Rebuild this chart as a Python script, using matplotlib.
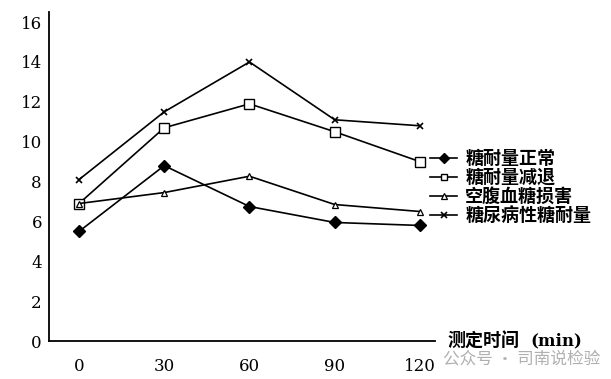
import matplotlib
matplotlib.use("Agg")
from matplotlib import pyplot as plt

# 测定时间 (min)
times = [0, 30, 60, 90, 120]
tick_labels = ["0", "30", "60", "90", "120"]

normal = [5.5, 8.8, 6.75, 5.95, 5.8]      # 糖耐量正常
igt = [6.9, 10.7, 11.9, 10.5, 9.0]         # 糖耐量减退
ifg = [6.9, 7.45, 8.27, 6.85, 6.5]         # 空腹血糖损害
diabetic = [8.1, 11.5, 14.0, 11.1, 10.8]   # 糖尿病性糖耐量

names = ["糖耐量正常", "糖耐量减退", "空腹血糖损害", "糖尿病性糖耐量"]

cjk = ["Noto Sans CJK SC", "DejaVu Sans"]
serif = ["DejaVu Serif"]

fig = plt.figure(figsize=(6.11, 3.79), dpi=100)
ax = fig.add_axes([0.080, 0.100, 0.632, 0.868])

lw = 1.2
ax.plot(times, normal, color="black", lw=lw, marker="D", ms=6,
        mfc="black", label=names[0])
ax.plot(times, igt, color="black", lw=lw, marker="s", ms=7,
        mfc="white", mew=1.0, label=names[1])
ax.plot(times, ifg, color="black", lw=lw, marker="^", ms=5,
        mfc="white", mew=0.9, label=names[2])
ax.plot(times, diabetic, color="black", lw=lw, marker="x", ms=5,
        mew=1.2, label=names[3])

ax.set_xlim(-10.6, 125.3)
ax.set_ylim(0, 16.5)
ax.set_xticks(times)
ax.set_xticklabels(tick_labels)
ax.set_yticks(range(0, 17, 2))
for lab in ax.get_xticklabels() + ax.get_yticklabels():
    lab.set_family(serif)
    lab.set_fontsize(12)
ax.tick_params(axis="both", length=0)
ax.tick_params(axis="y", pad=5)
ax.tick_params(axis="x", pad=12)

for s in ["top", "right"]:
    ax.spines[s].set_visible(False)
for s in ["left", "bottom"]:
    ax.spines[s].set_linewidth(1.3)

leg = fig.legend(loc="upper left", bbox_to_anchor=(0.692, 0.626),
                 frameon=False, handlelength=1.5, handletextpad=0.45,
                 labelspacing=0.0, borderaxespad=0,
                 prop={"family": cjk, "size": 13, "weight": "bold"})
for h in leg.legend_handles:
    h.set_markersize(5)

fig.text(447 / 611, 1 - 341 / 379, "测定时间", family=cjk, fontsize=13,
         fontweight="bold", va="center", ha="left")
fig.text(530 / 611, 1 - 341 / 379, "(min)", family=serif, fontsize=12,
         fontweight="bold", va="center", ha="left")

fig.text(443 / 611, 1 - 359 / 379, "公众号 · 司南说检验", family=cjk,
         fontsize=12, color="#b0b0b0", va="center", ha="left")

fig.savefig("out.png", dpi=100)
